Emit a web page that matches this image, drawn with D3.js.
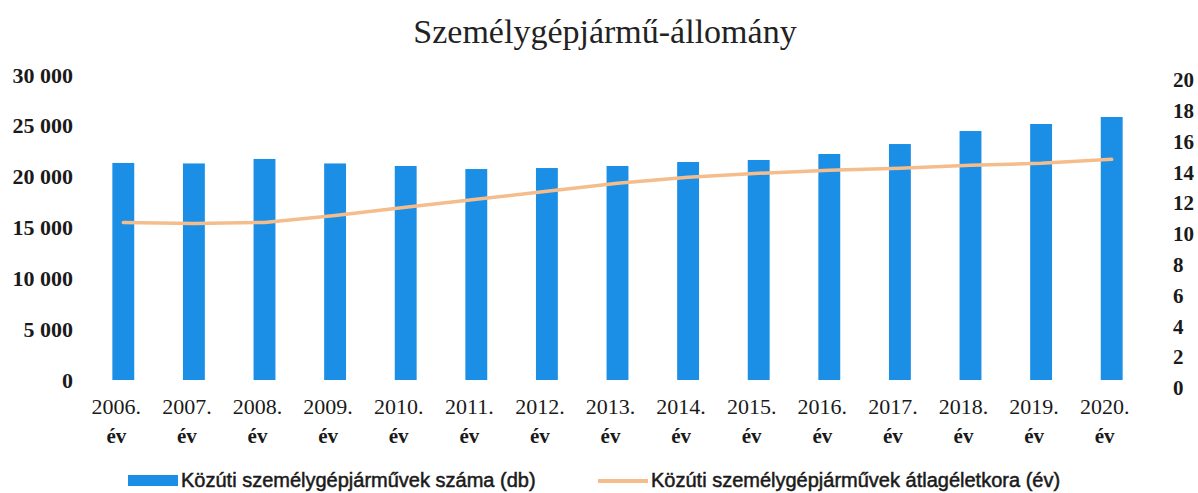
<!DOCTYPE html>
<html>
<head>
<meta charset="utf-8">
<script src="https://cdn.jsdelivr.net/npm/d3@7"></script>
<style>
  body { margin: 0; background: #fff; }
  svg { display: block; }
</style>
</head>
<body>
<div id="chart"></div>
<script>
var years = ["2006.", "2007.", "2008.", "2009.", "2010.", "2011.", "2012.", "2013.",
             "2014.", "2015.", "2016.", "2017.", "2018.", "2019.", "2020."];

// Közúti személygépjárművek száma (db)
var carCount = [21350, 21300, 21740, 21300, 21050, 20750, 20850, 21050,
                21440, 21640, 22230, 23210, 24490, 25180, 25870];

// Közúti személygépjárművek átlagéletkora (év)
var avgAge = [10.75, 10.68, 10.75, 11.2, 11.73, 12.25, 12.77, 13.29,
              13.68, 13.94, 14.14, 14.27, 14.46, 14.59, 14.85];

var leftTicks = [0, 5000, 10000, 15000, 20000, 25000, 30000];
var rightTicks = [0, 2, 4, 6, 8, 10, 12, 14, 16, 18, 20];

var titleText = "Személygépjármű-állomány";
var legendBar = "Közúti személygépjárművek száma (db)";
var legendLine = "Közúti személygépjárművek átlagéletkora (év)";

var width = 1198, height = 493;
var barColor = "#1b8fe6";
var lineColor = "#f5bd8c";

var svg = d3.select("#chart").append("svg")
  .attr("width", width)
  .attr("height", height);

var x = d3.scaleBand()
  .domain(years)
  .range([88, 1147])
  .paddingInner(0.69)
  .paddingOuter(0.345);

var yLeft = d3.scaleLinear().domain([0, 30000]).range([380, 75]);
var yRight = d3.scaleLinear().domain([0, 20]).range([388, 80]);

// title
svg.append("text")
  .attr("x", 605)
  .attr("y", 43)
  .attr("text-anchor", "middle")
  .style("font-family", "'Liberation Serif', 'DejaVu Serif', serif")
  .style("font-size", "34px")
  .style("fill", "#222")
  .text(titleText);

// left axis
var leftAxis = svg.append("g")
  .attr("transform", "translate(80,0)")
  .call(d3.axisLeft(yLeft).tickValues(leftTicks).tickSize(0).tickPadding(7)
    .tickFormat(function (d) { return d3.format(",")(d).replace(/,/g, " "); }));
leftAxis.select(".domain").remove();
leftAxis.selectAll("text")
  .style("font-family", "'Liberation Serif', serif")
  .style("font-size", "22px")
  .style("font-weight", "bold")
  .style("fill", "#1a1a1a");

// right axis
var rightAxis = svg.append("g")
  .attr("transform", "translate(1168,0)")
  .call(d3.axisRight(yRight).tickValues(rightTicks).tickSize(0).tickPadding(5));
rightAxis.select(".domain").remove();
rightAxis.selectAll("text")
  .style("font-family", "'Liberation Serif', serif")
  .style("font-size", "21px")
  .style("font-weight", "bold")
  .style("fill", "#1a1a1a");

// bars
svg.append("g")
  .selectAll("rect")
  .data(carCount)
  .enter().append("rect")
  .attr("x", function (d, i) { return x(years[i]); })
  .attr("y", function (d) { return yLeft(d); })
  .attr("width", x.bandwidth())
  .attr("height", function (d) { return yLeft(0) - yLeft(d); })
  .attr("fill", barColor);

// line
var line = d3.line()
  .x(function (d, i) { return x(years[i]) + x.bandwidth() / 2; })
  .y(function (d) { return yRight(d); });

svg.append("path")
  .datum(avgAge)
  .attr("d", line)
  .attr("fill", "none")
  .attr("stroke", lineColor)
  .attr("stroke-width", 3.5)
  .attr("stroke-linecap", "round");

// x labels
var xl = svg.append("g")
  .selectAll("g")
  .data(years)
  .enter().append("g")
  .attr("transform", function (d) { return "translate(" + (x(d) + x.bandwidth() / 2 - 7) + ",0)"; });

xl.append("text")
  .attr("y", 414)
  .attr("text-anchor", "middle")
  .style("font-family", "'Liberation Serif', serif")
  .style("font-size", "22px")
  .style("fill", "#1a1a1a")
  .text(function (d) { return d; });

xl.append("text")
  .attr("y", 443)
  .attr("text-anchor", "middle")
  .style("font-family", "'Liberation Serif', serif")
  .style("font-size", "21px")
  .style("font-weight", "bold")
  .style("fill", "#1a1a1a")
  .text("év");

// legend
var legend = svg.append("g");
legend.append("rect")
  .attr("x", 128).attr("y", 475)
  .attr("width", 50).attr("height", 11)
  .attr("fill", barColor);
legend.append("text")
  .attr("x", 181).attr("y", 487)
  .style("font-family", "'Liberation Sans Narrow', 'Liberation Sans', sans-serif")
  .style("font-size", "20px")
  .style("fill", "#1a1a1a")
  .style("stroke", "#1a1a1a")
  .style("stroke-width", "0.5px")
  .text(legendBar);
legend.append("line")
  .attr("x1", 598).attr("x2", 648)
  .attr("y1", 481).attr("y2", 481)
  .attr("stroke", lineColor)
  .attr("stroke-width", 4);
legend.append("text")
  .attr("x", 651).attr("y", 487)
  .style("font-family", "'Liberation Sans Narrow', 'Liberation Sans', sans-serif")
  .style("font-size", "20px")
  .style("fill", "#1a1a1a")
  .style("stroke", "#1a1a1a")
  .style("stroke-width", "0.5px")
  .text(legendLine);
</script>
</body>
</html>
